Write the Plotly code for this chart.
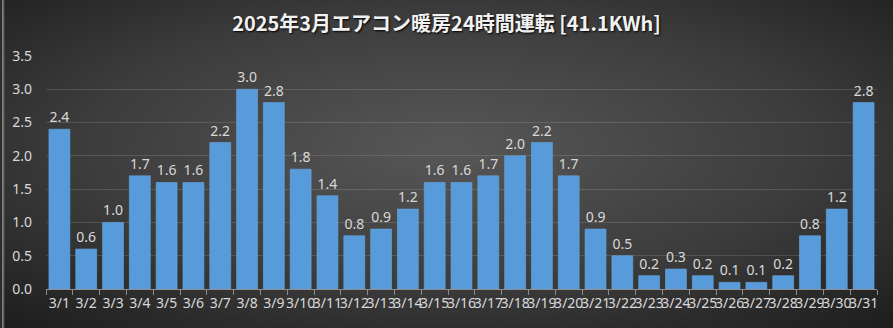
import base64
import plotly.graph_objects as go

# Daily heating energy use (kWh), March 2025
days = [f"3/{d}" for d in range(1, 32)]
kwh = [2.4, 0.6, 1.0, 1.7, 1.6, 1.6, 2.2, 3.0, 2.8, 1.8,
       1.4, 0.8, 0.9, 1.2, 1.6, 1.6, 1.7, 2.0, 2.2, 1.7,
       0.9, 0.5, 0.2, 0.3, 0.2, 0.1, 0.1, 0.2, 0.8, 1.2, 2.8]
title_text = "2025年3月エアコン暖房24時間運転 [41.1KWh]"

W, H = 893, 328
L, R, T, B = 44, 16, 56, 39
pw, ph = W - L - R, H - T - B

# Radial dark-gray backdrop
svg = f"""<svg xmlns='http://www.w3.org/2000/svg' width='{W}' height='{H}'>
<defs><radialGradient id='g' cx='50%' cy='45%' r='75%'>
<stop offset='0%' stop-color='#575757'/>
<stop offset='55%' stop-color='#3c3c3c'/>
<stop offset='100%' stop-color='#1c1c1c'/>
</radialGradient>
<linearGradient id='edge' x1='0' x2='1' y1='0' y2='0'>
<stop offset='0' stop-color='#9a9a9a'/><stop offset='1' stop-color='#9a9a9a' stop-opacity='0'/>
</linearGradient></defs>
<rect width='{W}' height='{H}' fill='url(#g)'/>
<rect width='3' height='{H}' fill='url(#edge)'/>
</svg>"""
bg_uri = "data:image/svg+xml;base64," + base64.b64encode(svg.encode()).decode()

fig = go.Figure(go.Bar(
    x=days, y=kwh,
    text=[f"{v:.1f}" for v in kwh],
    textposition="outside",
    textfont=dict(size=14, color="#d9d9d9", family="Noto Sans"),
    cliponaxis=False,
    marker=dict(color="#579bdb", line=dict(color="#6aa8e2", width=0.6)),
    width=0.78,
))

fig.update_layout(
    width=W, height=H,
    margin=dict(l=L, r=R, t=T, b=B),
    paper_bgcolor="#2c2c2c",
    plot_bgcolor="rgba(0,0,0,0)",
    showlegend=False,
    title=dict(
        text=title_text, x=0.5, xanchor="center", y=0.928, yanchor="middle",
        font=dict(size=20, color="#f2f2f2", family="Noto Sans CJK JP", weight="bold",
                  shadow="1px 1px 2px #000"),
    ),
    images=[dict(
        source=bg_uri, xref="paper", yref="paper",
        x=-L / pw, y=1 + T / ph, sizex=W / pw, sizey=H / ph,
        xanchor="left", yanchor="top", sizing="stretch", layer="below",
    )],
    font=dict(family="Noto Sans", color="#d9d9d9", size=14),
)

fig.update_xaxes(
    type="category", showgrid=False, showline=True, linecolor="#8c8c8c", linewidth=1,
    ticks="outside", tickson="boundaries", ticklen=5, tickcolor="#8c8c8c",
    tickfont=dict(size=14, color="#d9d9d9"), tickangle=0, ticklabelstandoff=1,
)
fig.update_yaxes(
    range=[0, 3.5], dtick=0.5, tickformat=".1f",
    showgrid=True, gridcolor="rgba(255,255,255,0.13)", gridwidth=1,
    zeroline=False, showline=False,
    tickfont=dict(size=14, color="#d9d9d9"), ticklabelstandoff=13,
)

fig.write_html("out.html")
